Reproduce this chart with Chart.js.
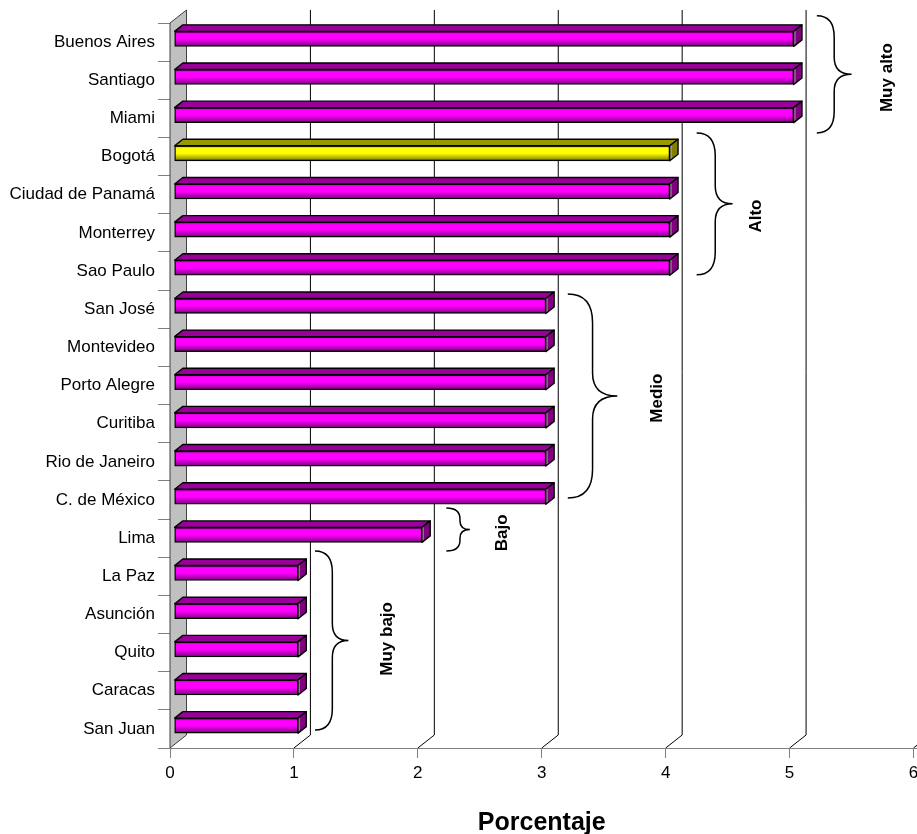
<!DOCTYPE html>
<html>
<head>
<meta charset="utf-8">
<script src="https://cdn.jsdelivr.net/npm/chart.js@4.4.1/dist/chart.umd.min.js"></script>
<style>
  html, body { margin: 0; padding: 0; background: #fff; }
  canvas { display: block; }
</style>
</head>
<body>
<canvas id="grafico" width="917" height="834"></canvas>
<script>
// datos
const ciudades = ['Buenos Aires', 'Santiago', 'Miami', 'Bogotá', 'Ciudad de Panamá', 'Monterrey',
  'Sao Paulo', 'San José', 'Montevideo', 'Porto Alegre', 'Curitiba', 'Rio de Janeiro',
  'C. de México', 'Lima', 'La Paz', 'Asunción', 'Quito', 'Caracas', 'San Juan'];
const porcentajes = [5, 5, 5, 4, 4, 4, 4, 3, 3, 3, 3, 3, 3, 2, 1, 1, 1, 1, 1];
const destacada = 'Bogotá';
const ticksX = [0, 1, 2, 3, 4, 5, 6];
const niveles = ['Muy alto', 'Alto', 'Medio', 'Bajo', 'Muy bajo'];

// llaves: x en unidades del eje, y en indice de categoria
const llaves = [
  { izq: 5.22, vert: 5.36, punta: 5.50, arriba: -0.69, abajo: 2.38, txtX: 5.79, txtY: 0.93 },
  { izq: 4.25, vert: 4.40, punta: 4.54, arriba: 2.38, abajo: 6.10, txtX: 4.73, txtY: 4.56 },
  { izq: 3.21, vert: 3.41, punta: 3.61, arriba: 6.60, abajo: 11.95, txtX: 3.935, txtY: 9.33 },
  { izq: 2.23, vert: 2.34, punta: 2.42, arriba: 12.21, abajo: 13.34, txtX: 2.68, txtY: 12.86 },
  { izq: 1.17, vert: 1.31, punta: 1.44, arriba: 13.34, abajo: 18.03, txtX: 1.75, txtY: 15.64 }
];

const FUENTE = "'Liberation Sans', Arial, sans-serif";
const DX = 16.5, DY = 13;      // profundidad del fondo
const GROSOR = 15;             // alto de la cara frontal de la barra

const tonos = {
  magenta: { claro: '#ff00ff', medio: '#b000b0', oscuro: '#700070', tapa: '#990099', lado: '#800080' },
  amarillo: { claro: '#ffff00', medio: '#b0b000', oscuro: '#707000', tapa: '#999900', lado: '#808000' }
};
const tonoDe = i => ciudades[i] === destacada ? tonos.amarillo : tonos.magenta;

const tresD = {
  id: 'tresD',
  beforeDatasetsDraw(chart) {
    const { ctx, chartArea: a, scales: { x } } = chart;
    ctx.save();
    // pared izquierda
    ctx.beginPath();
    ctx.moveTo(a.left, a.top);
    ctx.lineTo(a.left + DX, a.top - DY);
    ctx.lineTo(a.left + DX, a.bottom - DY);
    ctx.lineTo(a.left, a.bottom);
    ctx.closePath();
    ctx.fillStyle = '#c0c0c0';
    ctx.fill();
    ctx.strokeStyle = '#404040';
    ctx.lineWidth = 1;
    ctx.stroke();
    // lineas de division en el fondo
    ctx.strokeStyle = '#000';
    ticksX.slice(1).forEach(v => {
      const px = x.getPixelForValue(v);
      ctx.beginPath();
      ctx.moveTo(px + DX, a.top - DY);
      ctx.lineTo(px + DX, a.bottom - DY);
      ctx.lineTo(px, a.bottom);
      ctx.stroke();
    });
    // eje horizontal prolongado a la izquierda
    ctx.strokeStyle = '#808080';
    ctx.beginPath();
    ctx.moveTo(a.left - 12, a.bottom + 0.5);
    ctx.lineTo(chart.width, a.bottom + 0.5);
    ctx.stroke();
    ctx.restore();
    // barras a un cuarto de la profundidad
    ctx.save();
    ctx.translate(DX * 0.25, -DY * 0.25);
  },
  afterDatasetsDraw(chart) {
    const { ctx } = chart;
    const dx = DX * 0.5, dy = DY * 0.5;
    chart.getDatasetMeta(0).data.forEach((barra, i) => {
      const { x: xr, y, base, height } = barra.getProps(['x', 'y', 'base', 'height'], true);
      const t = y - height / 2, b = y + height / 2;
      const tono = tonoDe(i);
      ctx.lineWidth = 1.4;
      ctx.strokeStyle = '#000';
      ctx.lineJoin = 'round';
      // tapa
      ctx.beginPath();
      ctx.moveTo(base, t);
      ctx.lineTo(base + dx, t - dy);
      ctx.lineTo(xr + dx, t - dy);
      ctx.lineTo(xr, t);
      ctx.closePath();
      ctx.fillStyle = tono.tapa;
      ctx.fill();
      ctx.stroke();
      // lado derecho
      const g = ctx.createLinearGradient(xr, 0, xr + dx, 0);
      g.addColorStop(0, '#e8e8e8');
      g.addColorStop(0.3, tono.lado);
      g.addColorStop(1, tono.lado);
      ctx.beginPath();
      ctx.moveTo(xr, t);
      ctx.lineTo(xr + dx, t - dy);
      ctx.lineTo(xr + dx, b - dy);
      ctx.lineTo(xr, b);
      ctx.closePath();
      ctx.fillStyle = g;
      ctx.fill();
      ctx.stroke();
    });
    ctx.restore();
  },
  afterDraw(chart) {
    const { ctx, scales: { x, y } } = chart;
    ctx.save();
    llaves.forEach((l, k) => {
      const xi = x.getPixelForValue(l.izq), xv = x.getPixelForValue(l.vert), xp = x.getPixelForValue(l.punta);
      const ya = y.getPixelForValue(l.arriba), yb = y.getPixelForValue(l.abajo);
      const ym = (ya + yb) / 2;
      const r = Math.min(xv - xi + 4, (yb - ya) / 4);
      ctx.beginPath();
      ctx.moveTo(xi, ya);
      ctx.quadraticCurveTo(xv, ya, xv, ya + r);
      ctx.lineTo(xv, ym - r * 0.8);
      ctx.quadraticCurveTo(xv, ym, xp, ym);
      ctx.quadraticCurveTo(xv, ym, xv, ym + r * 0.8);
      ctx.lineTo(xv, yb - r);
      ctx.quadraticCurveTo(xv, yb, xi, yb);
      ctx.strokeStyle = '#000';
      ctx.lineWidth = 1.5;
      ctx.stroke();
      // texto del nivel
      ctx.save();
      ctx.translate(x.getPixelForValue(l.txtX), y.getPixelForValue(l.txtY));
      ctx.rotate(-Math.PI / 2);
      ctx.font = 'bold 17px ' + FUENTE;
      ctx.fillStyle = '#000';
      ctx.textAlign = 'center';
      ctx.textBaseline = 'middle';
      ctx.fillText(niveles[k], 0, 0);
      ctx.restore();
    });
    ctx.restore();
  }
};

new Chart(document.getElementById('grafico'), {
  type: 'bar',
  data: {
    labels: ciudades,
    datasets: [{
      data: porcentajes,
      barThickness: GROSOR,
      borderWidth: 1.4,
      borderColor: '#000',
      borderSkipped: false,
      backgroundColor: c => {
        const tono = tonoDe(c.dataIndex);
        const ys = c.chart.scales.y;
        const cy = ys ? ys.getPixelForValue(c.dataIndex) : NaN;
        if (!isFinite(cy)) return tono.claro;
        const g = c.chart.ctx.createLinearGradient(0, cy - GROSOR / 2, 0, cy + GROSOR / 2);
        g.addColorStop(0, tono.medio);
        g.addColorStop(0.18, tono.claro);
        g.addColorStop(0.5, tono.claro);
        g.addColorStop(0.8, tono.medio);
        g.addColorStop(1, tono.oscuro);
        return g;
      }
    }]
  },
  options: {
    indexAxis: 'y',
    responsive: false,
    animation: false,
    layout: { padding: { top: 23, right: 3.5, bottom: 0, left: 0 } },
    plugins: { legend: { display: false }, tooltip: { enabled: false } },
    scales: {
      x: {
        min: 0,
        max: 6,
        afterBuildTicks: s => { s.ticks = ticksX.map(v => ({ value: v })); },
        afterFit: s => { s.height = 86; s.paddingLeft = 0; s.paddingRight = 0; },
        grid: { drawOnChartArea: false, drawTicks: true, tickLength: 10, color: '#808080' },
        border: { display: true, color: '#808080' },
        ticks: { color: '#000', padding: 5, font: { family: FUENTE, size: 17 } },
        title: {
          display: true,
          text: 'Porcentaje',
          color: '#000',
          font: { family: FUENTE, size: 25, weight: 'bold' },
          padding: { top: 0, bottom: -4 }
        }
      },
      y: {
        afterFit: s => { s.width = 170; s.paddingTop = 0; s.paddingBottom = 0; },
        grid: { drawOnChartArea: false, drawTicks: true, tickLength: 12, color: '#808080' },
        border: { display: false },
        ticks: { color: '#000', padding: 3, font: { family: FUENTE, size: 17 } }
      }
    }
  },
  plugins: [tresD]
});
</script>
</body>
</html>
